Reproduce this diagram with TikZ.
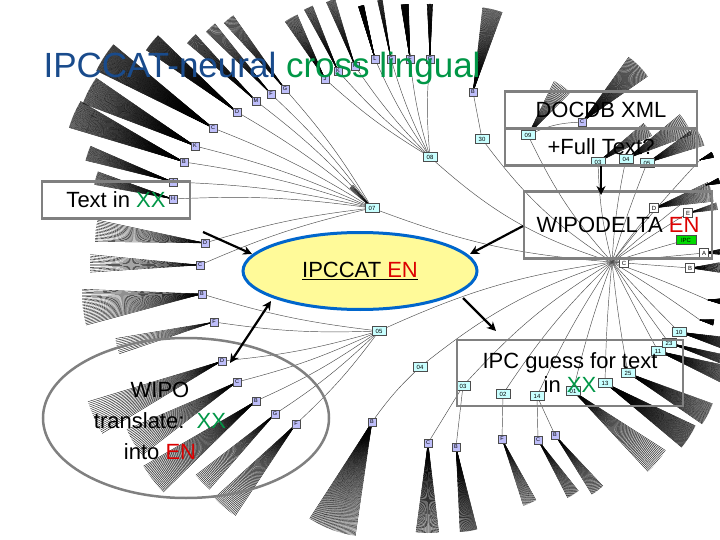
\documentclass[tikz,border=0pt]{standalone}
\usepackage{fontspec}
\setmainfont{Liberation Sans}
\usetikzlibrary{calc,arrows.meta,shapes.geometric}
\pgfdeclarelayer{bg}\pgfsetlayers{bg,main}
\definecolor{tblue}{RGB}{25,75,140}
\definecolor{tgreen}{RGB}{0,150,70}
\definecolor{tred}{RGB}{220,0,0}
\definecolor{lav}{RGB}{190,190,250}
\definecolor{cy}{RGB}{200,255,255}
\tikzset{
 lbox/.style={draw=black!70,fill=lav,inner sep=0.8pt,minimum size=8pt,font=\fontsize{5.5}{5.5}\selectfont},
 nbox/.style={draw=black!70,fill=cy,inner sep=1pt,minimum height=9pt,minimum width=14pt,font=\fontsize{6}{6}\selectfont},
 wbox/.style={draw=black!70,fill=white,inner sep=1pt,minimum size=9pt,font=\fontsize{6}{6}\selectfont},
 fanl/.style={black,line width=0.35pt},
 edg/.style={black!70,line width=0.45pt},
 gbox/.style={draw=black!50,line width=2.5pt},
 bigtxt/.style={font=\fontsize{22}{22}\selectfont},
 bigarrow/.style={line width=2.2pt,-{Stealth[length=9pt,width=9pt]}},
}
\newcommand\fan[4]{%
 \pgfpointdiff{\pgfpointanchor{ctr}{center}}{\pgfpointanchor{#1}{center}}%
 \pgfgetlastxy{\fx}{\fy}%
 \pgfmathsetmacro\fanang{atan2(\fy,\fx)}%
 \foreach \i in {1,...,#2}{\draw[fanl] (#1.center) -- ++(\fanang-#3/2+#3*\i/#2:#4pt);}%
}
\begin{document}
\begin{tikzpicture}[x=1pt,y=-1pt]
\useasboundingbox (0,0) rectangle (720,540);
\coordinate (ctr) at (430,270);
\coordinate (root) at (612,262);
% level-1
\node[nbox] (n07) at (372,208) {07};
\node[nbox] (n08) at (430,157) {08};
\node[nbox] (n30) at (482,139) {30};
\node[nbox] (n09) at (528,135) {09};
\node[nbox] (n03a) at (598,162) {03};
\node[nbox] (n04a) at (626,159) {04};
\node[nbox] (n05a) at (647,163) {05};
\node[nbox] (n05) at (379,331) {05};
\node[nbox] (n04) at (420,367) {04};
\node[nbox] (n03) at (463,386) {03};
\node[nbox] (n02) at (503,394) {02};
\node[nbox] (n14) at (537,396) {14};
\node[nbox] (n01) at (573,391) {01};
\node[nbox] (n13) at (605,383) {13};
\node[nbox] (n25) at (628,373) {25};
\node[nbox] (n11) at (658,351) {11};
\node[nbox] (n23) at (669,343) {23};
\node[nbox] (n10) at (679,332) {10};
% letters
\node[lbox] (tJ) at (325,79) {J};
\node[lbox] (tK) at (338,71) {K};
\node[lbox] (tH) at (355,66) {H};
\node[lbox] (tL) at (375,59) {L};
\node[lbox] (tG) at (391,59) {G};
\node[lbox] (tF) at (410,59) {F};
\node[lbox] (tG2) at (430,59) {G};
\node[lbox] (tB) at (473,92) {B};
\node[lbox] (uD) at (237,112) {D};
\node[lbox] (uM) at (256,101) {M};
\node[lbox] (uF) at (271,94) {F};
\node[lbox] (uG) at (285,89) {G};
\node[lbox] (uC) at (213,128) {C};
\node[lbox] (uK) at (195,146) {K};
\node[lbox] (uB) at (184,162) {B};
\node[lbox] (uJ) at (173,182) {J};
\node[lbox] (uH) at (173,199) {H};
\node[lbox] (lD) at (205,243) {D};
\node[lbox] (lC) at (200,265) {C};
\node[lbox] (lB) at (202,294) {B};
\node[lbox] (lF) at (214,322) {F};
\node[lbox] (mD) at (222,361) {D};
\node[lbox] (mC) at (237,382) {C};
\node[lbox] (mB) at (256,401) {B};
\node[lbox] (mG) at (275,414) {G};
\node[lbox] (mF) at (296,424) {F};
\node[lbox] (bB) at (372,422) {B};
\node[lbox] (bC) at (428,443) {C};
\node[lbox] (bB2) at (456,447) {B};
\node[lbox] (bF) at (502,439) {F};
\node[lbox] (bC2) at (538,440) {C};
\node[lbox] (bB3) at (555,435) {B};
\node[lbox] (rC) at (582,122) {C};
\node[wbox] (rD) at (654,208) {D};
\node[wbox] (rE) at (688,213) {E};
\node[draw=black!70,fill=green!85!black,inner sep=1pt,minimum width=20pt,minimum height=9pt,font=\fontsize{6}{6}\selectfont] (rI) at (686,240) {IPC};
\node[wbox] (rA) at (704,253) {A};
\node[wbox] (rC2) at (624,263) {C};
\node[wbox] (rB) at (690,268) {B};
\coordinate (e1) at (700,160);\coordinate (e2) at (706,185);\coordinate (e3) at (708,300);\coordinate (e4) at (700,320);
\begin{pgfonlayer}{bg}
\foreach \n/\b in {n07/8,n08/12,n30/10,n09/8,n03a/6,n04a/4,n05a/2,n05/-8,n04/-10,n03/-8,n02/-6,n14/-4,n01/-3,n13/-2,n25/-2,n11/-1,n23/-1,n10/-1,rD/2,rE/1,rI/1,rA/0,rC2/0,rB/0}
  \draw[edg] (root) to[bend left=\b] (\n);
\foreach \n in {uD,uM,uF,uG,uC,uK,uB,uJ,uH,lD,lC} \draw[edg] (n07) to[bend right=5] (\n);
\foreach \n in {lB,lF,mD,mC,mB,mG,mF} \draw[edg] (n05) to[bend left=5] (\n);
\foreach \n in {tJ,tK,tH,tL,tG,tF,tG2} \draw[edg] (n08) to[bend left=5] (\n);
\draw[edg] (n30) -- (tB); \draw[edg] (n09) to[bend left=10] (rC);
\draw[edg] (n04) to[bend right=5] (bB);
\foreach \n in {bC,bB2} \draw[edg] (n03) -- (\n);
\draw[edg] (n02) -- (bF);
\foreach \n in {bC2,bB3} \draw[edg] (n14) -- (\n);
\fan{tJ}{20}{12}{70}\fan{tK}{15}{8}{70}\fan{tH}{15}{8}{70}\fan{tL}{50}{6}{55}
\fan{tG}{15}{5}{60}\fan{tF}{50}{8}{55}\fan{tG2}{25}{6}{55}\fan{tB}{30}{14}{85}
\fan{uD}{40}{10}{110}\fan{uM}{20}{8}{90}\fan{uF}{15}{8}{90}\fan{uG}{15}{8}{90}
\fan{uC}{60}{14}{130}\fan{uK}{45}{14}{120}\fan{uB}{45}{14}{120}\fan{uJ}{25}{10}{90}\fan{uH}{20}{10}{80}
\fan{lD}{15}{12}{110}\fan{lC}{12}{10}{110}\fan{lB}{25}{18}{120}\fan{lF}{10}{10}{100}
\fan{mD}{20}{15}{140}\fan{mC}{20}{15}{120}\fan{mB}{25}{15}{130}\fan{mG}{15}{12}{100}\fan{mF}{20}{15}{110}
\fan{bB}{45}{25}{115}\fan{bC}{30}{15}{90}\fan{bB2}{30}{12}{85}\fan{bF}{15}{12}{70}\fan{bC2}{15}{12}{65}\fan{bB3}{15}{12}{70}
\fan{n01}{20}{15}{110}\fan{n13}{40}{15}{100}\fan{n25}{30}{15}{90}\fan{n11}{30}{15}{70}\fan{n23}{20}{10}{60}\fan{n10}{30}{15}{45}
\fan{rC}{30}{20}{80}\fan{n09}{15}{20}{60}\fan{n03a}{15}{15}{60}\fan{n04a}{20}{20}{70}\fan{n05a}{20}{20}{60}
\fan{rD}{20}{20}{60}\fan{rE}{10}{15}{30}\fan{rA}{20}{20}{20}\fan{rB}{20}{20}{30}
\fan{n07}{6}{10}{30}
\foreach \c in {e1,e2,e3,e4} {\draw[edg] (root) to[bend left=2] (\c); \fan{\c}{40}{25}{14}}
\end{pgfonlayer}
% overlays
\node[anchor=west,font=\fontsize{35}{35}\selectfont] (title) at (40,68) {\textcolor{tblue}{IPCCAT-neural} \textcolor{tgreen}{cross lingual}};
\node[gbox,bigtxt,minimum width=192pt,minimum height=37pt] (docdb) at (601,110) {DOCDB XML};
\node[gbox,bigtxt,minimum width=192pt,minimum height=37pt] (full) at (601,147) {+Full Text?};
\node[gbox,bigtxt,minimum width=188pt,minimum height=67pt] (delta) at (618,225) {WIPODELTA \textcolor{tred}{EN}};
\node[gbox,bigtxt,minimum width=148pt,minimum height=37pt] (txt) at (116,200) {Text in \textcolor{tgreen}{XX}};
\node[ellipse,draw=blue!50!cyan!80!black,line width=3pt,fill=yellow!40,minimum width=234pt,minimum height=77pt,bigtxt] (ell) at (360,271) {\underline{IPCCAT \textcolor{tred}{EN}}};
\node[gbox,minimum width=226pt,minimum height=66pt,align=center,font=\fontsize{22}{24}\selectfont] (guess) at (570,373) {IPC guess for text\\in \textcolor{tgreen}{XX}};
\node[ellipse,draw=black!50,line width=2.5pt,minimum width=286pt,minimum height=160pt] (wipo) at (186,418) {};
\node[align=center,font=\fontsize{22}{31}\selectfont] (wipot) at (160,421) {WIPO\\translate:\ \ \textcolor{tgreen}{XX}\\into \textcolor{tred}{EN}};
\coordinate (a1s) at (203,232); \coordinate (a1e) at (252,254);
\coordinate (a2s) at (523,226); \coordinate (a2e) at (470,254);
\coordinate (a3s) at (463,298); \coordinate (a3e) at (496,331);
\coordinate (a4s) at (271,301); \coordinate (a4e) at (230,363);
\coordinate (a5s) at (601,166); \coordinate (a5e) at (601,195);
\draw[bigarrow] (a1s) -- (a1e);
\draw[bigarrow] (a2s) -- (a2e);
\draw[bigarrow] (a3s) -- (a3e);
\draw[bigarrow] (a5s) -- (a5e);
\draw[line width=2.2pt,{Stealth[length=9pt,width=9pt]}-{Stealth[length=9pt,width=9pt]}] (a4s) -- (a4e);
\end{tikzpicture}
\end{document}
